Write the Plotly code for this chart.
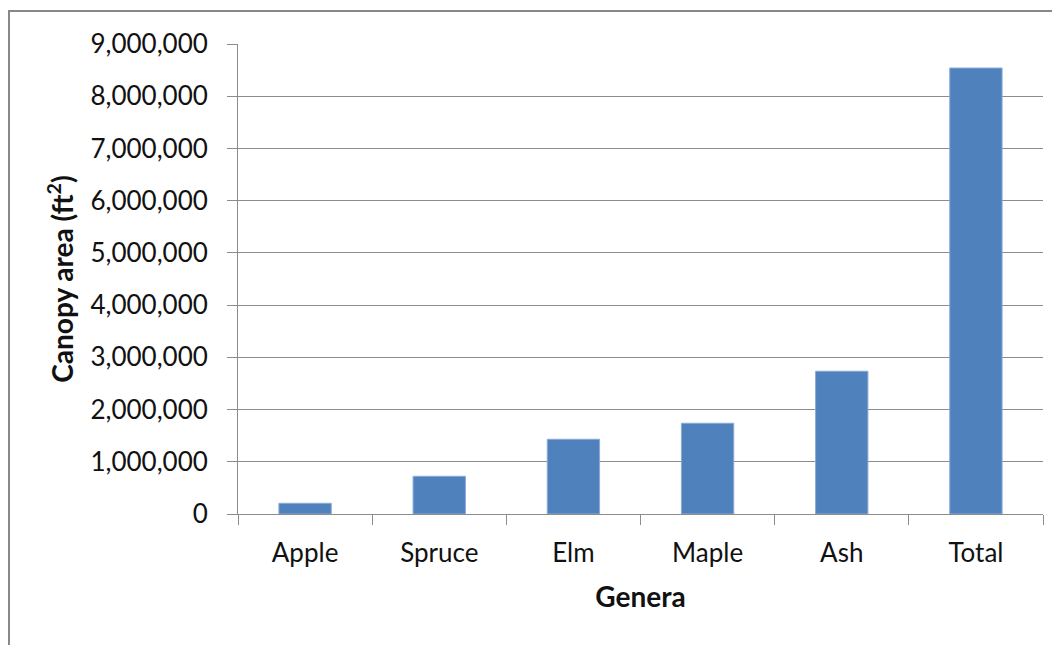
import plotly.graph_objects as go

genera = ["Apple", "Spruce", "Elm", "Maple", "Ash", "Total"]
canopy_area = [205000, 722000, 1431000, 1738000, 2734000, 8540000]

# page has an 8px body margin, so the figure is drawn 8px in from the top-left
W, H = 1052, 637
L, R, T, B = 230, 17, 36, 131
pw = W - L - R
ph = H - T - B

FONT = "Lato"
TXT = "#111111"
GRID = "#8c8c8c"

fig = go.Figure(
    go.Bar(
        x=genera,
        y=canopy_area,
        marker=dict(color="#4F81BD", line=dict(color="#8AAAD6", width=1)),
    )
)

def px_x(p):
    return (p - L) / pw

def px_y(p):
    return (H - B - p) / ph

fig.add_shape(
    type="rect", xref="paper", yref="paper",
    x0=px_x(1), x1=px_x(W + 10), y0=px_y(H + 10), y1=px_y(3),
    line=dict(color="#888888", width=2), fillcolor="rgba(0,0,0,0)", layer="below",
)

fig.update_layout(
    width=W, height=H,
    margin=dict(l=L, r=R, t=T, b=B, autoexpand=False),
    paper_bgcolor="white", plot_bgcolor="white",
    bargap=0.61,
    showlegend=False,
    font=dict(family=FONT, color=TXT, size=26),
    xaxis=dict(
        type="category",
        showline=True, linecolor=GRID, linewidth=1,
        ticks="outside", ticklen=10, tickcolor=GRID, tickwidth=1,
        tickson="boundaries",
        showgrid=False,
        tickfont=dict(family=FONT, size=26, color=TXT),
        ticklabelstandoff=16,
        title=dict(text="<b>Genera</b>", font=dict(family=FONT, size=28, color=TXT), standoff=20),
    ),
    yaxis=dict(
        range=[0, 9000000], dtick=1000000, tickformat=",",
        showline=True, linecolor=GRID, linewidth=1,
        ticks="outside", ticklen=10, tickcolor=GRID, tickwidth=1,
        showgrid=True, gridcolor=GRID, gridwidth=1,
        zeroline=False,
        tickfont=dict(family=FONT, size=26, color=TXT),
        ticklabelstandoff=14,
        title=dict(text="<b>Canopy area (ft<sup>2</sup>)</b>", font=dict(family=FONT, size=28, color=TXT), standoff=8),
    ),
)

fig.write_html("out.html")
